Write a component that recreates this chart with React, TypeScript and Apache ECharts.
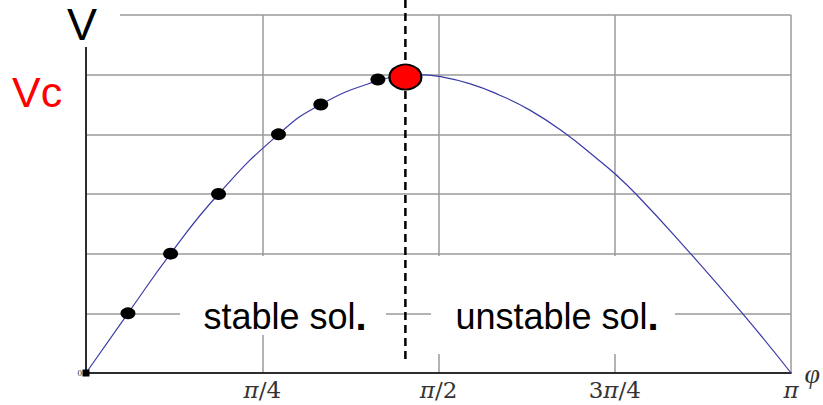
import React, { useEffect, useRef } from "react";
import * as echarts from "echarts";

// x in units of π (0..1), V in grid units (0..6), Vc = 5
const CURVE_X = [0, 0.0595, 0.12, 0.188, 0.273, 0.333, 0.414, 0.453, 0.473, 0.501, 0.544, 0.586, 0.629, 0.678, 0.724, 0.751, 0.78, 0.841, 0.931, 1];
const CURVE_V = [0, 1, 2, 3, 4, 4.5, 4.9, 4.98, 5.0, 4.97, 4.85, 4.66, 4.41, 4.03, 3.6, 3.33, 3.0, 2.22, 1.0, 0];

const DOTS_X = [0.0595, 0.12, 0.188, 0.273, 0.333, 0.414];
const DOTS_V = [1, 2, 3, 4, 4.5, 4.92];

const ORIGIN = [0, 0];
const PEAK_X = 0.453;
const PEAK_V = 4.96;

const X_TICKS = [0, 0.25, 0.5, 0.75, 1];
const X_LABELS = ["", "{i|π}/4", "{i|π}/2", "3{i|π}/4", "{i|π}"];

export default function App() {
  const ref = useRef<HTMLDivElement>(null);

  useEffect(() => {
    document.body.style.margin = "0";
    const chart = echarts.init(ref.current!, undefined, { renderer: "svg" });
    const option: any = {
      animation: false,
      backgroundColor: "#ffffff",
      grid: { left: 86, right: 31, top: 15, bottom: 32 },
      xAxis: {
        type: "value",
        min: 0,
        max: 1,
        interval: 0.25,
        axisLine: { show: true, lineStyle: { color: "#000", width: 1.5 } },
        axisTick: { show: false },
        splitLine: { show: true, lineStyle: { color: "#9a9a9a", width: 1.5 } },
        axisLabel: {
          margin: 5,
          fontFamily: "DejaVu Serif",
          fontSize: 23,
          color: "#333",
          formatter: (v: number) => {
            const i = X_TICKS.findIndex((t) => Math.abs(t - v) < 1e-6);
            return i >= 0 ? X_LABELS[i] : "";
          },
          rich: {
            i: { fontFamily: "DejaVu Serif", fontStyle: "italic", fontSize: 23, color: "#333" },
          },
        },
        name: "φ",
        nameLocation: "end",
        nameGap: 9,
        nameTextStyle: {
          fontFamily: "Liberation Serif",
          fontStyle: "italic",
          fontSize: 28,
          color: "#333",
          verticalAlign: "middle",
          padding: [0, 0, 8, 0],
        },
      },
      yAxis: {
        type: "value",
        min: 0,
        max: 6,
        interval: 1,
        axisLine: { show: true, lineStyle: { color: "#000", width: 1.5 } },
        axisTick: { show: false },
        splitLine: { show: true, lineStyle: { color: "#9a9a9a", width: 1.5 } },
        axisLabel: {
          margin: 4,
          fontFamily: "Liberation Serif",
          fontSize: 9,
          color: "#333",
          formatter: (v: number) => (v === 0 ? "0" : ""),
        },
      },
      series: [
        {
          type: "line",
          data: CURVE_X.map((x, i) => [x, CURVE_V[i]]),
          smooth: 0.5,
          showSymbol: false,
          lineStyle: { color: "#3a3aa8", width: 1.2 },
          z: 3,
        },
        {
          type: "scatter",
          data: DOTS_X.map((x, i) => [x, DOTS_V[i]]),
          symbol: "circle",
          symbolSize: [15, 12],
          itemStyle: { color: "#000", opacity: 1 },
          z: 4,
        },
        {
          type: "scatter",
          data: [ORIGIN],
          symbol: "rect",
          symbolSize: 7,
          itemStyle: { color: "#000", opacity: 1 },
          z: 4,
        },
        {
          type: "scatter",
          data: [[PEAK_X, PEAK_V]],
          symbol: "circle",
          symbolSize: [32, 25],
          itemStyle: { color: "#ff0000", borderColor: "#000", borderWidth: 2, opacity: 1 },
          z: 6,
        },
      ],
    };
    chart.setOption(option);

    const px = chart.convertToPixel({ xAxisIndex: 0 }, PEAK_X) as number;
    const pyBottom = chart.convertToPixel({ yAxisIndex: 0 }, 0.15) as number;

    chart.setOption({
      graphic: [
        { type: "rect", z: 1, shape: { x: 58, y: 0, width: 62, height: 47 }, style: { fill: "#fff" } },
        { type: "rect", z: 1, shape: { x: 180, y: 256, width: 206, height: 79 }, style: { fill: "#fff" } },
        { type: "rect", z: 1, shape: { x: 431, y: 256, width: 244, height: 98 }, style: { fill: "#fff" } },
        {
          type: "line",
          z: 5,
          shape: { x1: px, y1: 0, x2: px, y2: pyBottom },
          style: { stroke: "#000", lineWidth: 2.5, lineDash: [8, 5] },
        },
        {
          type: "text",
          z: 7,
          x: 82,
          y: 24,
          style: {
            text: "V",
            fontFamily: "Liberation Sans",
            fontSize: 45,
            fill: "#000",
            textAlign: "center",
            textVerticalAlign: "middle",
          },
        },
        {
          type: "text",
          z: 7,
          x: 12,
          y: 92,
          style: {
            text: "Vc",
            fontFamily: "Liberation Sans",
            fontSize: 43,
            fill: "#ff0000",
            textAlign: "left",
            textVerticalAlign: "middle",
          },
        },
        {
          type: "text",
          z: 7,
          x: 285,
          y: 316,
          style: {
            text: "{t|stable sol}{p|.}",
            rich: {
              t: { fontFamily: "Liberation Sans", fontSize: 36, fill: "#000" },
              p: { fontFamily: "Liberation Sans", fontSize: 40, fontWeight: "bold", fill: "#000" },
            },
            textAlign: "center",
            textVerticalAlign: "middle",
          },
        },
        {
          type: "text",
          z: 7,
          x: 557,
          y: 316,
          style: {
            text: "{t|unstable sol}{p|.}",
            rich: {
              t: { fontFamily: "Liberation Sans", fontSize: 36, fill: "#000" },
              p: { fontFamily: "Liberation Sans", fontSize: 40, fontWeight: "bold", fill: "#000" },
            },
            textAlign: "center",
            textVerticalAlign: "middle",
          },
        },
      ],
    });

    return () => chart.dispose();
  }, []);

  return <div ref={ref} style={{ width: 823, height: 405 }} />;
}
